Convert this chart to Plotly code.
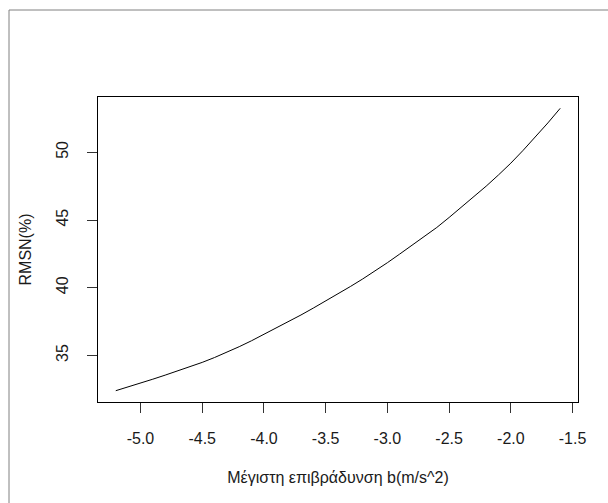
import plotly.graph_objects as go

# Data
decel = [-5.2, -5.1, -5.0, -4.9, -4.8, -4.7, -4.6, -4.5, -4.4, -4.3,
         -4.2, -4.1, -4.0, -3.9, -3.8, -3.7, -3.6, -3.5, -3.4, -3.3,
         -3.2, -3.1, -3.0, -2.9, -2.8, -2.7, -2.6, -2.5, -2.4, -2.3,
         -2.2, -2.1, -2.0, -1.9, -1.8, -1.7, -1.6]
rmsn = [32.40, 32.67, 32.95, 33.25, 33.55, 33.85, 34.15, 34.49, 34.85, 35.24,
        35.65, 36.09, 36.55, 37.02, 37.50, 37.99, 38.50, 39.02, 39.55, 40.09,
        40.65, 41.24, 41.85, 42.49, 43.15, 43.79, 44.45, 45.19, 45.95, 46.71,
        47.50, 48.33, 49.20, 50.15, 51.15, 52.17, 53.25]

x_ticks = [-5.0, -4.5, -4.0, -3.5, -3.0, -2.5, -2.0, -1.5]
y_ticks = [35, 40, 45, 50]
x_title = "Μέγιστη επιβράδυνση b(m/s^2)"
y_title = "RMSN(%)"

FONT = "Arial, Liberation Sans, sans-serif"
TXT = "#1a1a1a"

fig = go.Figure()
fig.add_trace(go.Scatter(x=decel, y=rmsn, mode="lines",
                         line=dict(color="black", width=1),
                         showlegend=False, hoverinfo="skip"))

# R-style 4% padding
xmin, xmax = min(decel), max(decel)
ymin, ymax = min(rmsn), max(rmsn)
px_ = (xmax - xmin) * 0.04
py_ = (ymax - ymin) * 0.04

fig.update_layout(
    width=608, height=503,
    margin=dict(l=98, r=30, t=97, b=101),
    paper_bgcolor="white", plot_bgcolor="white",
    font=dict(family=FONT, size=16, color=TXT),
    xaxis=dict(
        range=[xmin - px_, xmax + px_],
        tickmode="array", tickvals=x_ticks,
        ticktext=[f"{v:.1f}" for v in x_ticks],
        ticks="outside", ticklen=10, tickwidth=1, tickcolor="#333",
        showline=True, linecolor="black", linewidth=1, mirror=True,
        showgrid=False, zeroline=False,
        ticklabelstandoff=12,
        title=dict(text=x_title, standoff=25, font=dict(size=16, color=TXT)),
    ),
    yaxis=dict(
        range=[ymin - py_, ymax + py_],
        tickmode="array", tickvals=y_ticks,
        ticktext=[str(v) for v in y_ticks],
        ticks="outside", ticklen=10, tickwidth=1, tickcolor="#333",
        tickangle=-90,
        showline=True, linecolor="black", linewidth=1, mirror=True,
        showgrid=False, zeroline=False,
        ticklabelstandoff=13,
        title=dict(text=y_title, standoff=17, font=dict(size=16, color=TXT)),
    ),
)

# outer window frame (top and left edges visible in the reference)
def fx(p):
    return (p - 98) / 480.0

def fy(p):
    return (402 - p) / 305.0

fig.add_shape(type="line", xref="paper", yref="paper",
              x0=fx(9), x1=fx(610), y0=fy(10), y1=fy(10),
              line=dict(color="#808080", width=1))
fig.add_shape(type="line", xref="paper", yref="paper",
              x0=fx(9), x1=fx(9), y0=fy(10), y1=fy(505),
              line=dict(color="#808080", width=1))

fig.write_html("out.html")
